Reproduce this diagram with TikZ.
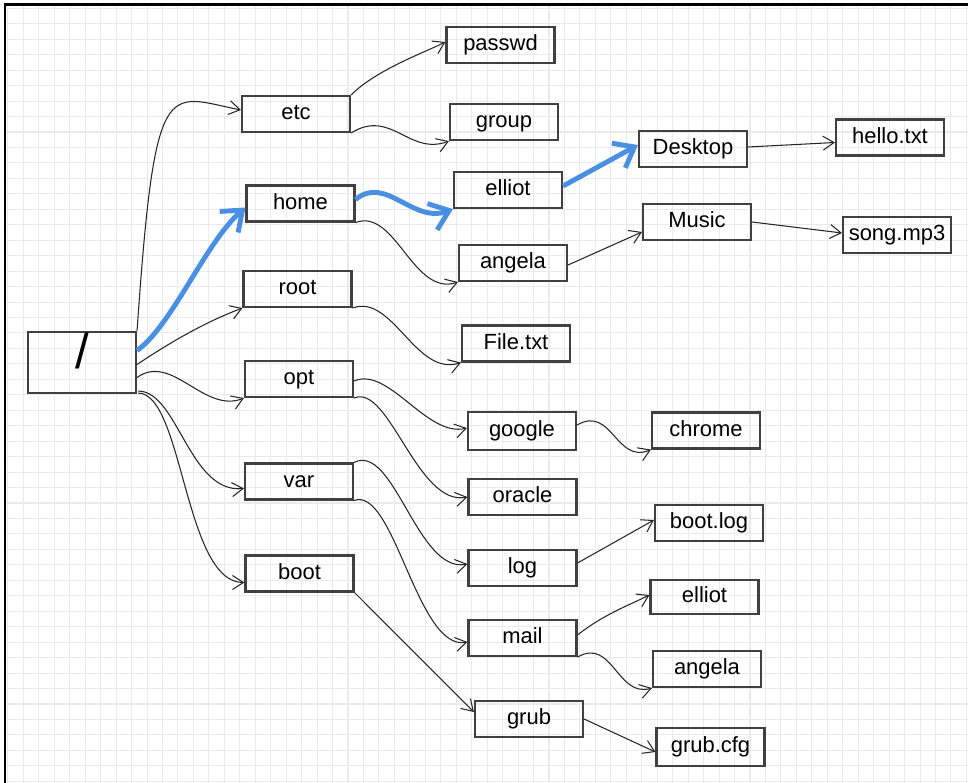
\documentclass[tikz,border=0pt]{standalone}
\usepackage{fontspec}
\setmainfont{Liberation Sans}
\usetikzlibrary{arrows.meta}
\definecolor{pathblue}{RGB}{74,144,226}
\definecolor{gridgray}{RGB}{234,234,234}
\def\bw{2.16cm}
\def\bh{0.72cm}
\tikzset{
    border/.style = {
        draw=black!75, rectangle, minimum width=\bw, minimum height=\bh, line width=1.2pt, inner sep=1pt,
        font=\fontsize{12.5}{15}\selectfont, text height=1.5ex, text depth=.25ex, anchor=center
    },
    link/.style = {
        draw=black!85, line width=0.6pt, -{Straight Barb[length=2.2mm,width=2.8mm]}
    },
    bluelink/.style = {
        draw=pathblue, line width=2.8pt, -{Straight Barb[length=3.6mm,width=5.6mm]}
    },
    gridline/.style = {draw=gridgray, line width=0.6pt},
}

\begin{document}
\begin{tikzpicture}[x=0.02cm, y=-0.02cm]
        \useasboundingbox (0,0) rectangle (968,783);

        % Background grid and frame
        \foreach \i in {0,...,62}{
            \draw[gridline] ({7.9+15.46*\i},5) -- ({7.9+15.46*\i},783);
        }
        \foreach \j in {0,...,50}{
            \draw[gridline] (5,{8.3+15.46*\j}) -- (968,{8.3+15.46*\j});
        }
        \draw[line width=1.7pt] (5,783) -- (5,5) -- (968,5);

        % Place the blocks
        \node[border, minimum height=1.22cm, font=\fontsize{28}{30}\selectfont] (slash) at (82,362.5) {/};
        \node[border] (etc) at (296,114) {etc};
        \node[border] (home) at (300.5,203.5) {home};
        \node[border] (rootdir) at (297.5,289) {root};
        \node[border] (opt) at (299,379) {opt};
        \node[border] (var) at (299,481.5) {var};
        \node[border] (boot) at (299.5,573.5) {boot};

        \node[border] (passwd) at (500.5,45) {passwd};
        \node[border] (group) at (504,122) {group};
        \node[border] (elliot) at (508,190) {elliot};
        \node[border] (angela) at (513,263) {angela};
        \node[border] (file) at (516,343.5) {File.txt};
        \node[border, minimum height=0.76cm] (google) at (522,431) {google};
        \node[border] (oracle) at (522.5,497) {oracle};
        \node[border] (log) at (522.5,568) {log};
        \node[border] (mail) at (522.5,638) {mail};
        \node[border] (grub) at (529,719) {grub};

        \node[border] (desktop) at (693,149) {Desktop};
        \node[border] (music) at (697,222) {Music};
        \node[border] (chrome) at (706,430.5) {chrome};
        \node[border] (bootlog) at (709,523) {boot.log};
        \node[border, minimum height=0.68cm] (mailelliot) at (704.5,597) {elliot};
        \node[border] (mailangela) at (707,669) {angela};
        \node[border, minimum height=0.76cm] (grubcfg) at (710.5,747) {grub.cfg};

        \node[border] (hello) at (890,137.5) {hello.txt};
        \node[border] (song) at (897,235) {song.mp3};

        % Draw connections
        \begin{scope}
            \draw[link] (slash.north east) .. controls +(18,-260) and +(-75,-15) .. ([shift={(0,-4)}]etc.west);
            \draw[link] ([shift={(0,2)}]slash.east) .. controls +(30,-20) and +(-40,15) .. (rootdir.south west);
            \draw[link] ([shift={(0,15)}]slash.east) .. controls +(35,-25) and +(-40,16) .. (opt.south west);
            \draw[link] ([shift={(1,-3)}]slash.south east) .. controls +(40,0) and +(-55,5) .. ([shift={(0,7)}]var.west);
            \draw[link] ([shift={(1,-1)}]slash.south east) .. controls +(45,0) and +(-60,0) .. ([shift={(0,9)}]boot.west);

            \draw[link] (etc.north east) .. controls +(25,-25) and +(-20,10) .. ([shift={(0,-3)}]passwd.west);
            \draw[link] (etc.south east) .. controls +(40,-25) and +(-40,15) .. (group.south west);
            \draw[link] (home.south east) .. controls +(40,-15) and +(-45,15) .. (angela.south west);
            \draw[link] (rootdir.south east) .. controls +(40,-15) and +(-45,15) .. (file.south west);
            \draw[link] ([shift={(0,2)}]opt.east) .. controls +(35,-15) and +(-40,10) .. ([shift={(0,-3)}]google.west);
            \draw[link] (opt.south east) .. controls +(35,-15) and +(-50,10) .. (oracle.west);
            \draw[link] (var.north east) .. controls +(40,-20) and +(-50,10) .. ([shift={(0,-4)}]log.west);
            \draw[link] (var.south east) .. controls +(40,-15) and +(-50,10) .. ([shift={(0,4)}]mail.west);
            \draw[link] (boot.south east) -- ([shift={(0,-7)}]grub.west);

            \draw[link] ([shift={(0,2)}]angela.east) -- ([shift={(0,10)}]music.west);
            \draw[link] ([shift={(0,-2)}]desktop.east) -- ([shift={(0,5)}]hello.west);
            \draw[link] (music.east) -- ([shift={(0,-2)}]song.west);
            \draw[link] ([shift={(0,-6)}]google.east) .. controls +(35,-20) and +(-35,15) .. (chrome.south west);
            \draw[link] ([shift={(0,-5)}]log.east) -- ([shift={(0,-3)}]bootlog.west);
            \draw[link] ([shift={(0,-3)}]mail.east) .. controls +(25,-20) and +(-20,10) .. ([shift={(0,-2)}]mailelliot.west);
            \draw[link] (mail.south east) .. controls +(35,-20) and +(-35,10) .. (mailangela.south west);
            \draw[link] (grub.east) -- ([shift={(0,5)}]grubcfg.west);
        \end{scope}

        % Highlighted path
        \draw[bluelink] ([shift={(0,-12)}]slash.east) .. controls +(35,-25) and +(-40,35) .. ([shift={(0,4)}]home.west);
        \draw[bluelink] ([shift={(0,-4)}]home.east) .. controls +(30,-25) and +(-40,15) .. (elliot.south west);
        \draw[bluelink] ([shift={(0,-4)}]elliot.east) -- ([shift={(0,-4)}]desktop.west);
    \end{tikzpicture}
\end{document}
